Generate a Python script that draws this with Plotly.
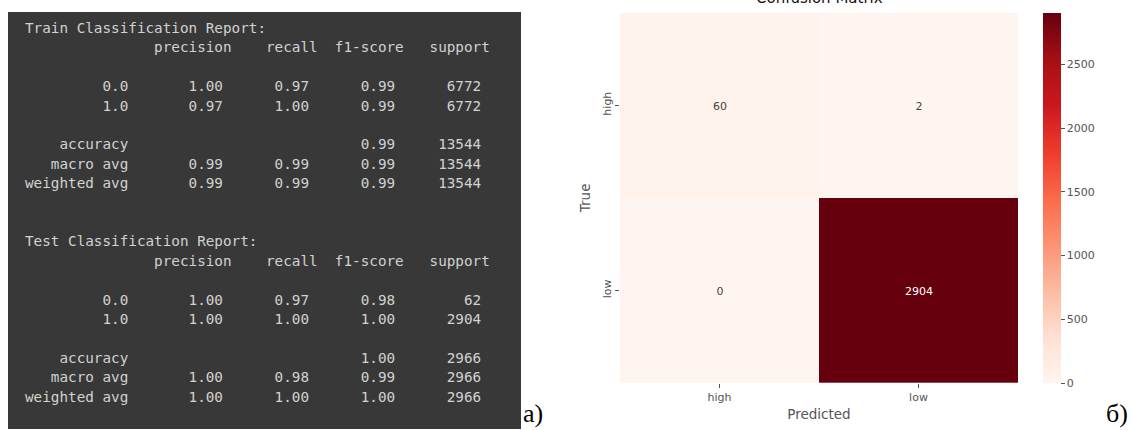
import plotly.graph_objects as go

W, H = 1132, 430

# ---------------- data ----------------
class_labels = ["0.0", "1.0"]
report_headers = ["precision", "recall", "f1-score", "support"]

train_precision = [1.00, 0.97]
train_recall = [0.97, 1.00]
train_f1 = [0.99, 0.99]
train_support = [6772, 6772]
train_accuracy = 0.99
train_macro = [0.99, 0.99, 0.99]
train_weighted = [0.99, 0.99, 0.99]
train_total = 13544

test_precision = [1.00, 1.00]
test_recall = [0.97, 1.00]
test_f1 = [0.98, 1.00]
test_support = [62, 2904]
test_accuracy = 1.00
test_macro = [1.00, 0.98, 0.99]
test_weighted = [1.00, 1.00, 1.00]
test_total = 2966

cm_pred = ["high", "low"]
cm_true = ["high", "low"]
cm_values = [[60, 2], [0, 2904]]
cbar_ticks = [0, 500, 1000, 1500, 2000, 2500]


# ---------------- helpers ----------------
def px_x(p):
    return p / W


def px_y(p):
    return 1 - p / H


def report_lines(title, prec, rec, f1, sup, acc, macro, weighted, total):
    width = 12
    lines = [title]
    # print(title + "\n", report) adds one leading space to the header line
    lines.append(" " + "{:>{w}s} ".format("", w=width) + "".join(" {:>9}".format(h) for h in report_headers))
    lines.append("")
    for lab, p, r, f, s in zip(class_labels, prec, rec, f1, sup):
        lines.append("{:>{w}s} ".format(lab, w=width)
                     + " {:>9.2f} {:>9.2f} {:>9.2f} {:>9}".format(p, r, f, s))
    lines.append("")
    lines.append("{:>{w}s} ".format("accuracy", w=width)
                 + " {:>9} {:>9} {:>9.2f} {:>9}".format("", "", acc, total))
    lines.append("{:>{w}s} ".format("macro avg", w=width)
                 + " {:>9.2f} {:>9.2f} {:>9.2f} {:>9}".format(*macro, total))
    lines.append("{:>{w}s} ".format("weighted avg", w=width)
                 + " {:>9.2f} {:>9.2f} {:>9.2f} {:>9}".format(*weighted, total))
    return lines


all_lines = (report_lines("Train Classification Report:", train_precision, train_recall, train_f1,
                          train_support, train_accuracy, train_macro, train_weighted, train_total)
             + ["", ""]
             + report_lines("Test Classification Report:", test_precision, test_recall, test_f1,
                            test_support, test_accuracy, test_macro, test_weighted, test_total))

fig = go.Figure()

# confusion matrix heatmap
reds = ["#fff5f0", "#fee0d2", "#fcbba1", "#fc9272", "#fb6a4a",
        "#ef3b2c", "#cb181d", "#a50f15", "#67000d"]
colorscale = [[i / (len(reds) - 1), c] for i, c in enumerate(reds)]

plot_top, plot_bot = 12.7, 383
fig.add_trace(go.Heatmap(
    z=cm_values, x=cm_pred, y=cm_true,
    colorscale=colorscale, zmin=0, zmax=max(max(r) for r in cm_values),
    texttemplate="%{z}",
    textfont=dict(family="DejaVu Sans", size=11),
    xgap=0, ygap=0,
    hoverinfo="skip",
    colorbar=dict(
        x=px_x(1043), xanchor="left", xref="paper", xpad=0, ypad=0,
        y=px_y(plot_bot), yanchor="bottom", yref="paper",
        len=(plot_bot - plot_top) / H, lenmode="fraction",
        thickness=18, outlinewidth=0,
        tickvals=cbar_ticks, ticks="outside", ticklen=4, tickcolor="#555",
        tickfont=dict(family="DejaVu Sans", size=11, color="#555"),
    ),
))

fig.update_xaxes(
    domain=[px_x(620), px_x(1018)], anchor="y",
    title=dict(text="Predicted", font=dict(family="DejaVu Sans", size=13.5, color="#555"), standoff=6),
    tickfont=dict(family="DejaVu Sans", size=11, color="#555"),
    ticks="outside", ticklen=4, tickcolor="#555", showgrid=False, zeroline=False,
    showline=False,
)
fig.update_yaxes(
    domain=[px_y(plot_bot), px_y(plot_top)], anchor="x",
    autorange="reversed",
    title=dict(text="True", font=dict(family="DejaVu Sans", size=13.5, color="#555"), standoff=6),
    tickfont=dict(family="DejaVu Sans", size=11, color="#555"),
    tickangle=-90,
    ticks="outside", ticklen=4, tickcolor="#555", showgrid=False, zeroline=False,
    showline=False,
)

# dark report panel
fig.add_shape(type="rect", xref="paper", yref="paper",
              x0=px_x(8), x1=px_x(521), y0=px_y(429), y1=px_y(12),
              fillcolor="#383838", line=dict(width=0), layer="below")

annotations = []
line_top, line_step = 28, 19.4
for i, ln in enumerate(all_lines):
    if not ln:
        continue
    annotations.append(dict(
        text=ln.replace(" ", "\u00a0"), xref="paper", yref="paper",
        x=px_x(23), y=px_y(line_top + i * line_step),
        xanchor="left", yanchor="middle", showarrow=False,
        font=dict(family="DejaVu Sans Mono", size=14.3, color="#d2d2d2"),
    ))

# title (partly cut at the top edge, as in the source image)
annotations.append(dict(
    text="Confusion Matrix", xref="paper", yref="paper",
    x=px_x(819), y=px_y(9), xanchor="center", yanchor="bottom", showarrow=False,
    font=dict(family="DejaVu Sans", size=15, color="#111"),
))

# panel labels
annotations.append(dict(
    text="а)", xref="paper", yref="paper", x=px_x(521), y=px_y(413),
    xanchor="left", yanchor="middle", showarrow=False,
    font=dict(family="Liberation Serif", size=26, color="#000"),
))
annotations.append(dict(
    text="б)", xref="paper", yref="paper", x=px_x(1104), y=px_y(413),
    xanchor="left", yanchor="middle", showarrow=False,
    font=dict(family="Liberation Serif", size=26, color="#000"),
))

fig.update_layout(
    width=W, height=H,
    margin=dict(l=0, r=0, t=0, b=0),
    paper_bgcolor="white", plot_bgcolor="white",
    annotations=annotations,
    showlegend=False,
)

fig.write_html("out.html",
               config={"displayModeBar": False},
               post_script="document.body.style.margin='0px';document.body.style.overflow='hidden';")
